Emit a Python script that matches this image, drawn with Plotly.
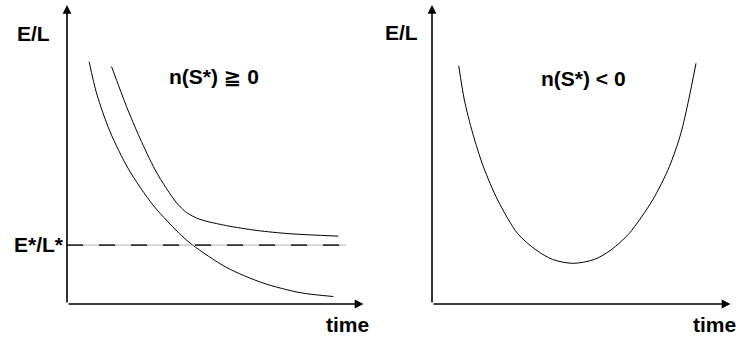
import plotly.graph_objects as go

# ---- data ----
lower_t = [0.75, 1.01, 1.46, 2.08, 2.93, 3.89, 4.26, 5.41, 6.65, 7.90, 9.03]
lower_v = [8.10, 7.02, 5.76, 4.52, 3.29, 2.28, 1.97, 1.22, 0.70, 0.38, 0.25]

upper_t = [1.51, 2.02, 2.47, 2.98, 3.38, 3.72, 4.06, 4.51, 5.41, 6.43, 7.56, 9.20]
upper_v = [7.94, 6.60, 5.55, 4.50, 3.85, 3.38, 3.05, 2.83, 2.62, 2.46, 2.35, 2.27]

steady_level = 1.97
steady_t = [0.0, 9.46]

u_t = [0.90, 1.09, 1.37, 1.73, 2.21, 2.88, 3.50, 4.06, 4.74, 5.47, 6.03, 6.64, 7.43, 7.99, 8.38, 8.64, 8.89]
u_v = [7.97, 6.82, 5.71, 4.59, 3.48, 2.36, 1.81, 1.49, 1.36, 1.49, 1.81, 2.36, 3.48, 4.59, 5.71, 6.82, 8.05]

W, H = 736, 338
def px(x): return x / W
def py(y): return 1 - y / H

FONT = dict(family="Liberation Sans, Arial, DejaVu Sans", size=21, color="black", weight="bold")

fig = go.Figure()
curve = dict(color="black", width=1, shape="spline", smoothing=0.8)

# left panel
fig.add_trace(go.Scatter(x=lower_t, y=lower_v, mode="lines", line=curve,
                         xaxis="x", yaxis="y", showlegend=False, hoverinfo="skip"))
fig.add_trace(go.Scatter(x=upper_t, y=upper_v, mode="lines", line=curve,
                         xaxis="x", yaxis="y", showlegend=False, hoverinfo="skip"))
fig.add_trace(go.Scatter(x=steady_t, y=[steady_level] * 2, mode="lines", line=dict(color="#b0b0b0", width=1),
                         xaxis="x", yaxis="y", showlegend=False, hoverinfo="skip"))
fig.add_trace(go.Scatter(x=steady_t, y=[steady_level] * 2, mode="lines",
                         line=dict(color="#333333", width=1.6, dash="16px,16px"),
                         xaxis="x", yaxis="y", showlegend=False, hoverinfo="skip"))
# right panel
fig.add_trace(go.Scatter(x=u_t, y=u_v, mode="lines", line=curve,
                         xaxis="x2", yaxis="y2", showlegend=False, hoverinfo="skip"))

ax_common = dict(visible=False, range=[0, 10], fixedrange=True)
fig.update_layout(
    width=W, height=H,
    margin=dict(l=0, r=0, t=0, b=0),
    paper_bgcolor="white", plot_bgcolor="rgba(0,0,0,0)",
    xaxis=dict(domain=[px(67), px(362)], anchor="y", **ax_common),
    yaxis=dict(domain=[py(304), py(5)], anchor="x", **ax_common),
    xaxis2=dict(domain=[px(432), px(729)], anchor="y2", **ax_common),
    yaxis2=dict(domain=[py(304), py(5)], anchor="x2", **ax_common),
)

arrow = dict(showarrow=True, arrowhead=2, arrowsize=1.1, arrowwidth=1.6, arrowcolor="black", text="")
for xr, yr in [("x", "y"), ("x2", "y2")]:
    fig.add_annotation(x=10.05, y=0, ax=0, ay=0, xref=xr, yref=yr, axref=xr, ayref=yr, **arrow)
    fig.add_annotation(x=0, y=10, ax=0, ay=0, xref=xr, yref=yr, axref=xr, ayref=yr, **arrow)

labels = [
    ("E/L", 33, 34),
    ("E*/L*", 39, 244),
    ("time", 347, 324),
    ("n(S*) \u2267 0", 214, 77),
    ("E/L", 401, 33),
    ("time", 714, 324),
    ("n(S*) < 0", 583, 78),
]
for t, x, y in labels:
    fig.add_annotation(text=t, x=px(x), y=py(y), xref="paper", yref="paper",
                       showarrow=False, xanchor="center", yanchor="middle", font=FONT)

fig.write_html("out.html", config={"displayModeBar": False, "staticPlot": True},
               post_script="document.body.style.margin='0';document.body.style.overflow='hidden';")
